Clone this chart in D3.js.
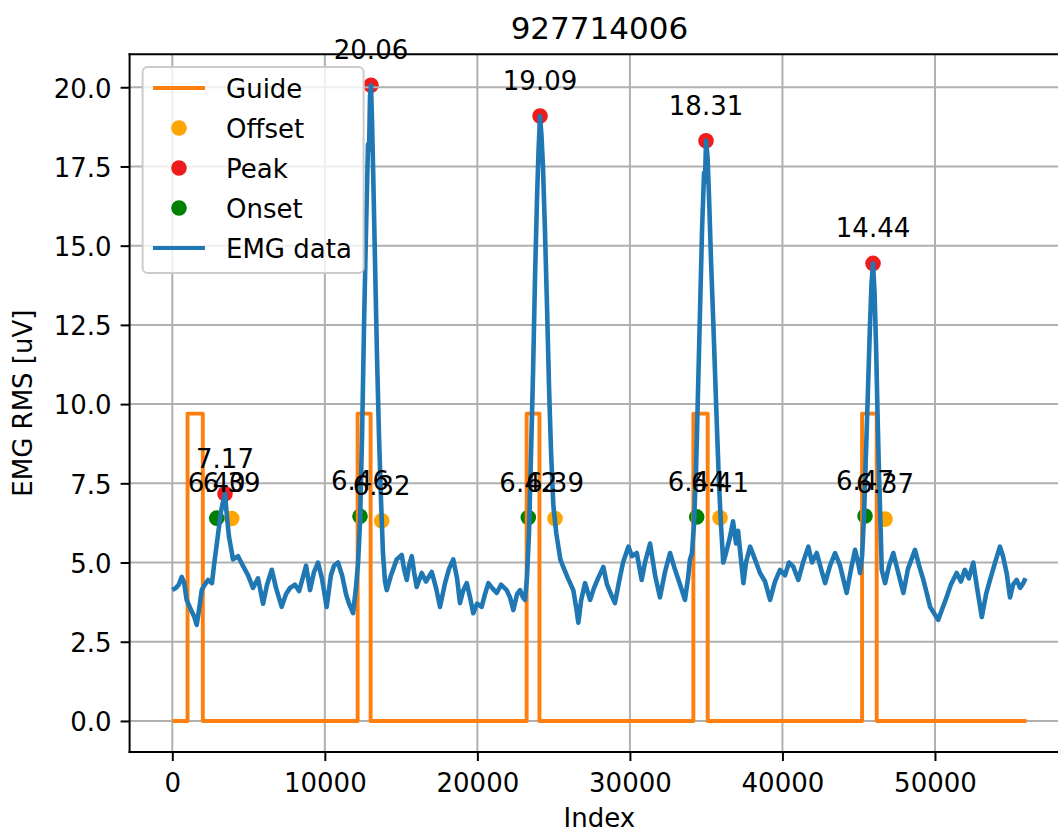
<!DOCTYPE html>
<html>
<head>
<meta charset="utf-8">
<script src="https://cdn.jsdelivr.net/npm/d3@7"></script>
<style>
  html, body { margin: 0; padding: 0; background: #ffffff; }
  svg { display: block; font-family: "DejaVu Sans", sans-serif; }
</style>
</head>
<body>
<svg id="chart" width="1058" height="831"></svg>
<script>
// ---------------- data ----------------
const chartTitle = "927714006";
const xLabel = "Index";
const yLabel = "EMG RMS [uV]";

const xTicks = [0, 10000, 20000, 30000, 40000, 50000];
const yTicks = [0, 2.5, 5, 7.5, 10, 12.5, 15, 17.5, 20];

// EMG RMS trace (index, value)
const emgIndex = [0,240,420,620,780,940,1230,1430,1600,1780,1930,2130,2340,2600,2730,3000,3190,3320,3455,3590,3720,3980,
  4310,4630,4960,5290,5620,5950,6210,6520,6800,7170,7450,7720,8040,8310,8570,8770,9030,9290,9550,9810,10120,10400,10600,
  10860,11130,11390,11590,11850,12040,12180,12310,12440,12570,12700,12830,12900,12960,13027,13090,13160,13290,13420,13550,
  13680,13810,13945,14060,14340,14710,15040,15190,15370,15520,15700,15850,16020,16350,16630,17010,17290,17550,17880,18140,
  18420,18670,18860,19060,19300,19520,19730,19980,20280,20500,20720,20960,21270,21550,21920,22140,22360,22600,22800,22990,
  23120,23250,23390,23520,23650,23780,23910,24010,24107,24200,24300,24430,24570,24700,24830,24980,25180,25440,25630,25940,
  26290,26470,26620,26800,27060,27390,27650,27910,28260,28500,28760,29020,29290,29550,29900,30140,30450,30770,30990,31320,
  31650,31970,32300,32630,32960,33290,33610,33810,33940,34070,34200,34340,34470,34600,34730,34860,34920,34990,35090,35190,
  35320,35450,35580,35710,35840,35970,36120,36300,36560,36760,36960,37090,37440,37610,37880,38200,38530,38860,39190,39510,
  39840,40170,40430,40720,41040,41350,41700,41940,42250,42530,42800,43120,43450,43780,44210,44500,44760,44960,45090,45220,
  45350,45480,45610,45740,45840,45939,46040,46140,46230,46330,46430,46510,46730,46990,47270,47580,47930,48230,48690,48960,
  49240,49480,49680,49940,50210,50450,50760,51040,51420,51700,51960,52220,52510,52760,53070,53350,53610,53940,54260,54460,
  54700,54920,55120,55360,55580,55790,55940];
const emgValue = [4.13,4.2,4.3,4.55,4.35,3.82,3.5,3.3,3.03,3.6,4.13,4.3,4.45,4.35,4.9,5.9,6.6,6.9,7.17,6.4,5.8,5.1,
  5.2,4.9,4.6,4.2,4.5,3.7,4.3,4.77,4.2,3.6,4.0,4.2,4.3,4.1,4.55,4.9,4.13,4.7,5.0,4.5,3.6,4.6,4.9,
  5.0,4.6,4.0,3.7,3.4,4.2,5.0,6.3,9.0,12.5,15.5,18.2,18.0,19.7,20.06,19.0,17.5,14.5,11.5,9.0,
  7.0,5.3,4.4,4.13,4.6,5.1,5.24,4.8,4.45,4.9,5.2,4.7,4.23,4.67,4.4,4.7,4.2,3.6,4.35,4.8,
  5.1,4.5,3.72,4.1,4.35,3.9,3.4,3.7,3.6,4.0,4.35,4.2,4.04,4.3,4.13,3.9,3.5,4.0,4.13,3.9,
  3.82,4.5,6.0,8.5,11.0,14.0,16.5,18.0,19.09,18.5,17.5,15.5,13.0,10.5,8.5,6.8,5.9,5.1,4.86,4.5,
  4.13,3.6,3.1,3.8,4.35,3.82,4.2,4.5,4.86,4.3,4.0,3.72,4.4,5.0,5.5,5.2,5.3,4.45,5.0,5.6,
  4.6,3.9,4.7,5.3,4.77,4.3,3.82,4.5,5.1,5.3,6.2,8.0,10.5,13.0,15.5,17.3,17.0,18.31,17.8,16.5,
  14.5,12.8,11.0,9.2,7.5,6.2,5.0,5.3,5.8,6.3,5.6,6.0,4.35,5.0,5.5,5.1,4.67,4.4,3.82,4.4,
  4.77,4.6,5.0,4.86,4.45,5.0,5.5,5.0,5.3,4.8,4.35,4.9,5.3,4.9,4.04,4.8,5.4,5.0,4.67,5.2,
  6.5,8.5,10.5,12.5,13.8,14.44,13.5,11.8,9.8,7.8,6.2,4.77,4.35,4.9,5.3,4.7,4.04,4.8,5.4,4.9,
  4.45,4.0,3.6,3.4,3.19,3.5,3.9,4.3,4.67,4.4,4.77,4.5,5.0,4.2,3.28,4.0,4.45,5.0,5.5,5.2,
  4.67,3.9,4.3,4.45,4.2,4.35,4.5];

// Guide (square pulses)
const guideStarts = [1000, 12150, 23230, 34160, 45220];
const guideEnds   = [2000, 13000, 24070, 35100, 46180];
const guideLevel = 9.7;
const guideLast = 56000;

// Detected events
const onsetIndex  = [2911, 12306, 23340, 34380, 45415];
const onsetValue  = [6.40, 6.46, 6.42, 6.44, 6.47];
const peakIndex   = [3455, 13027, 24107, 34990, 45939];
const peakValue   = [7.17, 20.06, 19.09, 18.31, 14.44];
const offsetIndex = [3894, 13729, 25090, 35908, 46726];
const offsetValue = [6.39, 6.32, 6.39, 6.41, 6.37];

const legendLabels = ["Guide", "Offset", "Peak", "Onset", "EMG data"];

// ---------------- drawing ----------------
const C = { blue: "#1f77b4", orange: "#ff7f0e", offset: "#ffa500", peak: "#ee1c1c", onset: "#008000", grid: "#b0b0b0" };
const FS = 26;

const svg = d3.select("#chart");
svg.append("rect").attr("width", 1058).attr("height", 831).attr("fill", "#fff");

const x = d3.scaleLinear().domain([-2800, 58800]).range([129.6, 1069.2]);
const y = d3.scaleLinear().domain([-0.98, 21.04]).range([752, 54.3]);
const [x0, x1] = x.range();
const [yb, yt] = y.range();

svg.append("defs").append("clipPath").attr("id", "plotclip")
  .append("rect").attr("x", x0).attr("y", yt).attr("width", x1 - x0).attr("height", yb - yt);

const plot = svg.append("g").attr("clip-path", "url(#plotclip)");

// markers (zorder 1)
function scatter(ix, vals, color) {
  plot.append("g").selectAll("circle").data(ix.map((d, i) => [d, vals[i]])).join("circle")
    .attr("cx", d => x(d[0])).attr("cy", d => y(d[1])).attr("r", 7.8).attr("fill", color);
}
scatter(offsetIndex, offsetValue, C.offset);
scatter(peakIndex, peakValue, C.peak);
scatter(onsetIndex, onsetValue, C.onset);

// grid
const grid = plot.append("g").attr("stroke", C.grid).attr("stroke-width", 2);
grid.selectAll(".gx").data(xTicks).join("line")
  .attr("x1", d => x(d)).attr("x2", d => x(d)).attr("y1", yt).attr("y2", yb);
grid.selectAll(".gy").data(yTicks).join("line")
  .attr("y1", d => y(d)).attr("y2", d => y(d)).attr("x1", x0).attr("x2", x1);

// guide
const guidePts = [[0, 0]];
guideStarts.forEach((s, i) => {
  guidePts.push([s, 0], [s, guideLevel], [guideEnds[i], guideLevel], [guideEnds[i], 0]);
});
guidePts.push([guideLast, 0]);
const line = d3.line().x(d => x(d[0])).y(d => y(d[1]));
plot.append("path").attr("d", line(guidePts)).attr("fill", "none")
  .attr("stroke", C.orange).attr("stroke-width", 3.9).attr("stroke-linejoin", "round");

// EMG
plot.append("path").attr("d", line(emgIndex.map((d, i) => [d, emgValue[i]]))).attr("fill", "none")
  .attr("stroke", C.blue).attr("stroke-width", 4.6).attr("stroke-linejoin", "round");

// spines
const sp = svg.append("g").attr("stroke", "#000").attr("stroke-width", 2).attr("fill", "none");
sp.append("line").attr("x1", x0).attr("x2", x0).attr("y1", yt - 1).attr("y2", yb + 1);
sp.append("line").attr("x1", x0 - 1).attr("x2", x1).attr("y1", yb).attr("y2", yb);
sp.append("line").attr("x1", x0 - 1).attr("x2", x1).attr("y1", yt).attr("y2", yt);
sp.append("line").attr("x1", x1).attr("x2", x1).attr("y1", yt).attr("y2", yb);

// axes
const xAxis = d3.axisBottom(x).tickValues(xTicks).tickSize(9).tickSizeOuter(0).tickPadding(13).tickFormat(d3.format("d"));
const gx = svg.append("g").attr("transform", `translate(0,${yb})`).call(xAxis);
const yAxis = d3.axisLeft(y).tickValues(yTicks).tickSize(9).tickSizeOuter(0).tickPadding(9).tickFormat(d3.format(".1f"));
const gy = svg.append("g").attr("transform", `translate(${x0},0)`).call(yAxis);
[gx, gy].forEach(g => {
  g.select(".domain").remove();
  g.selectAll(".tick line").attr("stroke", "#000").attr("stroke-width", 2);
  g.selectAll(".tick text").attr("fill", "#000").style("font-size", FS + "px").style("font-family", "DejaVu Sans");
});
gy.selectAll(".tick text").attr("dy", "0.38em");

// annotations
const ann = svg.append("g").style("font-size", FS + "px").attr("text-anchor", "middle").attr("fill", "#000");
function labels(ix, vals) {
  ann.append("g").selectAll("text").data(ix.map((d, i) => [d, vals[i]])).join("text")
    .attr("x", d => x(d[0])).attr("y", d => y(d[1]) - 26).text(d => d3.format(".2f")(d[1]));
}
labels(onsetIndex, onsetValue);
labels(peakIndex, peakValue);
labels(offsetIndex, offsetValue);

// title & axis labels
svg.append("text").attr("x", (x0 + x1) / 2).attr("y", 38.5).attr("text-anchor", "middle")
  .style("font-size", "31px").text(chartTitle);
svg.append("text").attr("x", (x0 + x1) / 2).attr("y", 827).attr("text-anchor", "middle")
  .style("font-size", FS + "px").text(xLabel);
svg.append("text").attr("transform", `translate(32,${(yt + yb) / 2}) rotate(-90)`).attr("text-anchor", "middle")
  .style("font-size", FS + "px").text(yLabel);

// legend
const lg = svg.append("g");
lg.append("rect").attr("x", 142.6).attr("y", 67).attr("width", 221).attr("height", 206).attr("rx", 5)
  .attr("fill", "#fff").attr("fill-opacity", 0.8).attr("stroke", "#cccccc").attr("stroke-width", 2);
const legendKinds = ["line", "dot", "dot", "dot", "line"];
const legendColors = [C.orange, C.offset, C.peak, C.onset, C.blue];
legendLabels.forEach((lab, i) => {
  const cy = 88 + i * 40;
  if (legendKinds[i] === "line") {
    lg.append("line").attr("x1", 153).attr("x2", 205).attr("y1", cy).attr("y2", cy)
      .attr("stroke", legendColors[i]).attr("stroke-width", 3.9);
  } else {
    lg.append("circle").attr("cx", 179).attr("cy", cy).attr("r", 7.8).attr("fill", legendColors[i]);
  }
  lg.append("text").attr("x", 226).attr("y", cy + 9.5).style("font-size", FS + "px").text(lab);
});
</script>
</body>
</html>
